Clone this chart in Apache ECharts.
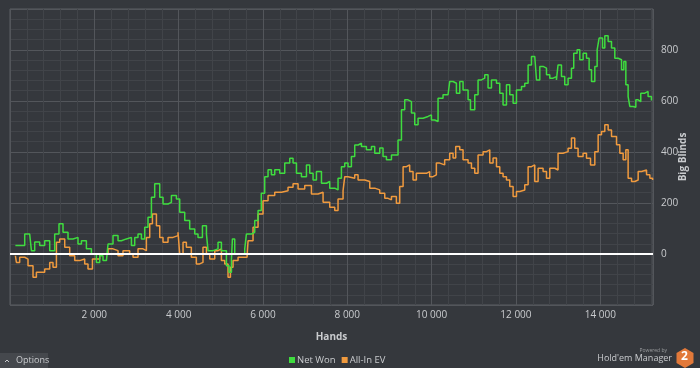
<!DOCTYPE html>
<html>
<head>
<meta charset="utf-8">
<script src="https://cdn.jsdelivr.net/npm/echarts@6/dist/echarts.min.js"></script>
<style>
html,body{margin:0;padding:0;background:#35383d;}
#chart{width:700px;height:368px;}
</style>
</head>
<body>
<div id="chart"></div>
<script>
// ---- data (hands, big blinds) ----
const netWonHands = [128,349,467,508,586,704,823,942,1060,1162,1257,1376,1494,1613,1694,1812,1931,2049,2128,2206,2287,2325,2443,2562,2642,2761,2880,2958,3036,3117,3195,3273,3354,3432,3551,3629,3748,3828,3947,4025,4144,4262,4381,4459,4564,4659,4697,4815,4934,5014,5133,5195,5252,5275,5330,5449,5567,5607,5726,5804,5883,5960,6041,6120,6200,6279,6397,6516,6635,6713,6794,6912,7031,7109,7188,7268,7387,7505,7583,7702,7780,7860,7939,8017,8097,8176,8255,8335,8453,8572,8650,8769,8847,8928,9047,9125,9203,9284,9362,9440,9521,9599,9678,9796,9915,9995,10073,10152,10270,10389,10429,10508,10588,10667,10745,10864,10921,11023,11101,11182,11260,11338,11419,11538,11616,11694,11775,11853,11932,12012,12131,12209,12288,12368,12446,12487,12565,12643,12724,12802,12881,12960,12998,13079,13157,13236,13316,13370,13450,13514,13593,13673,13735,13792,13870,13925,13972,14053,14107,14186,14266,14344,14423,14504,14558,14606,14660,14700,14779,14843,14898,14960,15055,15133,15213];
const netWonBB = [33,78,72,13,47,33,52,13,78,118,85,59,65,39,52,20,0,-33,-7,-26,-33,39,72,52,59,65,33,65,78,59,105,144,222,275,222,196,202,229,215,163,131,98,78,65,111,78,13,20,46,13,-46,-72,-20,59,0,0,20,78,85,131,170,238,303,330,310,330,316,356,375,356,316,303,349,316,290,323,277,284,258,251,297,342,356,342,382,427,434,421,408,421,395,415,382,369,388,388,447,565,604,597,552,506,532,539,545,525,519,610,624,630,676,669,630,676,643,604,565,624,682,689,702,650,682,669,630,584,663,624,591,643,656,669,741,774,767,682,735,728,702,689,695,682,741,695,663,689,728,787,800,761,787,767,722,676,735,800,846,807,855,833,807,767,761,722,754,663,617,578,575,604,597,630,637,617,601];
const allInEVHands = [128,152,230,349,427,546,626,745,823,942,1020,1101,1179,1298,1416,1535,1653,1772,1850,1955,2128,2325,2443,2562,2680,2839,2918,3036,3155,3235,3314,3378,3473,3551,3629,3748,3866,3985,4025,4104,4183,4301,4420,4498,4577,4659,4737,4856,4934,5014,5093,5171,5228,5290,5409,5527,5622,5646,5764,5883,6001,6120,6279,6438,6594,6713,6832,6990,7149,7306,7425,7583,7702,7780,7899,7939,8017,8176,8255,8414,8533,8650,8769,8888,8967,9047,9164,9243,9323,9401,9479,9559,9638,9757,9875,9954,10032,10112,10191,10309,10429,10508,10571,10667,10745,10864,10944,11023,11101,11220,11300,11379,11457,11538,11616,11694,11775,11853,11932,12012,12090,12209,12288,12368,12446,12525,12643,12724,12802,12921,12998,13117,13236,13316,13394,13473,13592,13673,13768,13870,13949,14029,14107,14186,14266,14385,14463,14542,14606,14660,14741,14819,14898,14979,15097,15176,15240];
const allInEVBB = [-7,-33,-13,-20,-46,-91,-72,-72,-59,-33,-52,46,59,26,-7,-26,-20,-39,-59,-20,0,20,13,-7,13,0,-13,20,13,65,118,157,111,65,46,65,72,85,0,46,26,-13,-39,-33,26,0,-20,13,20,-26,-39,-91,-52,-26,-13,-13,-7,52,105,157,209,229,242,248,261,275,255,268,235,242,203,183,170,215,248,303,297,310,290,284,258,251,238,218,212,225,199,264,342,349,323,290,316,316,323,303,310,356,349,369,395,376,421,408,369,356,336,316,388,401,408,356,376,342,316,303,290,264,225,245,251,271,342,349,284,336,323,297,336,329,395,401,414,454,414,382,395,375,349,401,467,480,506,486,460,428,395,369,408,297,284,290,323,329,310,297,290];
const seriesNames = ['Net Won', 'All-In EV'];
const yTicks = [0, 200, 400, 600, 800];

const zip = (a, b) => a.map((v, i) => [v, b[i]]);
const fmtThousands = v => String(v).replace(/\B(?=(\d{3})+(?!\d))/g, ' ');

const chart = echarts.init(document.getElementById('chart'), null, {renderer: 'canvas'});
const textCol = '#c9cbce';
const font = 'Open Sans';

chart.setOption({
  backgroundColor: '#35383d',
  animation: false,
  grid: {left: 10, right: 47, top: 9, bottom: 63, show: true, borderColor: '#5c5f64', borderWidth: 1,
    backgroundColor: 'transparent', containLabel: false, outerBoundsMode: 'none'},
  legend: {
    bottom: 3, left: 289, padding: 0,
    data: seriesNames,
    icon: 'rect', itemWidth: 6, itemHeight: 6, itemGap: 6,
    textStyle: {color: textCol, fontSize: 9.5, fontFamily: font, padding: [0,0,0,-3]}
  },
  xAxis: [
    { // minor grid
      type: 'value', position: 'bottom', min: 0, max: 15250, interval: 400,
      axisLine: {show: false}, axisTick: {show: false}, axisLabel: {show: false},
      splitLine: {show: true, lineStyle: {color: '#414449', width: 1}}
    },
    {
      type: 'value', position: 'bottom', min: 0, max: 15250, interval: 2000,
      name: 'Hands', nameLocation: 'middle', nameGap: 27,
      nameTextStyle: {color: textCol, fontSize: 10, fontWeight: 'bold', fontFamily: font},
      axisLine: {show: false}, axisTick: {show: false},
      axisLabel: {color: textCol, fontSize: 10, fontFamily: font, margin: 5,
        formatter: v => (v > 0 && v <= 15000 ? fmtThousands(v) : '')},
      splitLine: {show: true, lineStyle: {color: '#53565b', width: 1}}
    }
  ],
  yAxis: [
    { // minor grid
      type: 'value', min: -200, max: 960, interval: 40, position: 'right',
      axisLine: {show: false}, axisTick: {show: false}, axisLabel: {show: false},
      splitLine: {show: true, lineStyle: {color: '#414449', width: 1}}
    },
    {
      type: 'value', min: -200, max: 960, interval: 200, position: 'right',
      name: 'Big Blinds', nameLocation: 'middle', nameGap: 25, nameRotate: 90, nameMoveOverlap: false,
      nameTextStyle: {color: textCol, fontSize: 10, fontWeight: 'bold', fontFamily: font},
      axisLine: {show: false}, axisTick: {show: false},
      axisLabel: {color: textCol, fontSize: 10, fontFamily: font, margin: 8,
        formatter: v => (yTicks.indexOf(v) >= 0 ? String(v) : '')},
      splitLine: {show: true, lineStyle: {color: '#53565b', width: 1}}
    }
  ],
  series: [
    {
      name: seriesNames[0], type: 'line', xAxisIndex: 1, yAxisIndex: 1, step: 'end',
      data: zip(netWonHands, netWonBB), showSymbol: false, symbol: 'none',
      itemStyle: {color: '#3fdc3f'}, lineStyle: {color: '#3fdc3f', width: 1.5},
      z: 3,
      markLine: {
        silent: true, symbol: 'none', label: {show: false},
        lineStyle: {color: '#ffffff', width: 2, type: 'solid'},
        data: [{yAxis: 0}], z: 10
      }
    },
    {
      name: seriesNames[1], type: 'line', xAxisIndex: 1, yAxisIndex: 1, step: 'end',
      data: zip(allInEVHands, allInEVBB), showSymbol: false, symbol: 'none',
      itemStyle: {color: '#f09a3e'}, lineStyle: {color: '#f09a3e', width: 1.5},
      z: 2
    }
  ],
  graphic: [
    {type: 'rect', left: 0, top: 353, shape: {width: 48, height: 15}, style: {fill: '#45484d'}},
    {type: 'polyline', shape: {points: [[5, 362], [7, 360], [9, 362]]}, style: {stroke: '#c9cbce', lineWidth: 1, fill: null}},
    {type: 'text', left: 16, top: 356, style: {text: 'Options', fill: '#c9cbce', font: '9px "Open Sans"'}},
    {type: 'text', right: 33, top: 348, style: {text: 'Powered by', fill: '#9a9c9f', font: '5px "Open Sans"'}},
    {type: 'text', right: 28, top: 354, style: {text: "Hold'em Manager", fill: '#c9cbce', font: '9px "Open Sans"'}},
    {type: 'polygon', shape: {points: [[685, 348], [693.5, 353], [693.5, 363], [685, 368], [676.5, 363], [676.5, 353]]}, style: {fill: '#e2793a'}},
    {type: 'text', left: 681, top: 351, style: {text: '2', fill: '#ffffff', font: 'bold 12px "Open Sans"'}}
  ]
});
</script>
</body>
</html>
